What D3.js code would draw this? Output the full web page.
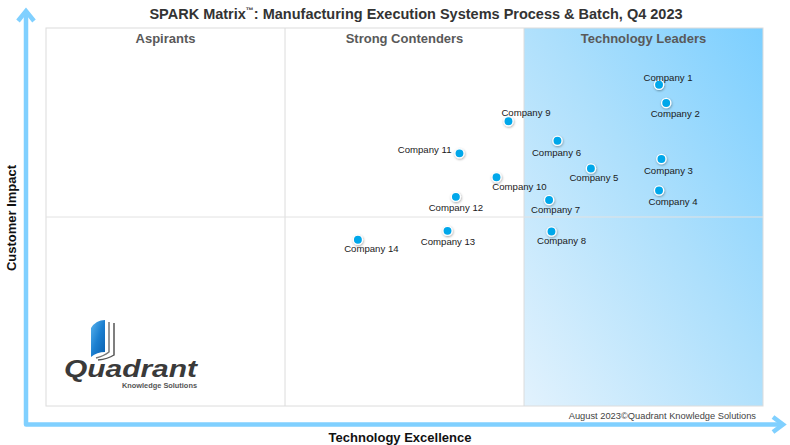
<!DOCTYPE html>
<html lang="en">
<head>
  <meta charset="utf-8">
  <title>SPARK Matrix</title>
  <script src="https://d3js.org/d3.v7.min.js"></script>
  <style>
    body { margin: 0; background: #fff; }
    text { font-family: "Liberation Sans", Arial, sans-serif; }
  </style>
</head>
<body>
<script>
// data
var companies = ["Company 1", "Company 2", "Company 3", "Company 4", "Company 5", "Company 6", "Company 7",
                 "Company 8", "Company 9", "Company 10", "Company 11", "Company 12", "Company 13", "Company 14"];
var techExcellence = [5.13, 5.19, 5.15, 5.13, 4.56, 4.28, 4.21, 4.23, 3.87, 3.77, 3.46, 3.43, 3.36, 2.61];
var customerImpact = [5.10, 4.81, 3.92, 3.42, 3.77, 4.21, 3.27, 2.77, 4.52, 3.63, 4.01, 3.32, 2.78, 2.64];
var quadrantNames = ["Aspirants", "Strong Contenders", "Technology Leaders"];
var xBreaks = [2, 4];
var yBreak = 3;

// label placement (dx, dy from point, anchor)
var labelOffsets = [
  [9, -4, "middle"], [9, 14, "middle"], [7, 14.5, "middle"], [14, 14, "middle"],
  [3, 13, "middle"], [-1, 15, "middle"], [6.5, 13, "middle"], [10, 13, "middle"],
  [17.5, -5.5, "middle"], [23, 13, "middle"], [-8, 0, "end"], [0, 14.5, "middle"],
  [0.5, 14.5, "middle"], [13.5, 12, "middle"]
];

var width = 790, height = 445;
var left = 46, top_ = 28, right = 763, bottom = 406;

var svg = d3.select("body").append("svg")
  .attr("width", width)
  .attr("height", height);

var x = d3.scaleLinear().domain([0, 6]).range([left, right]);
var y = d3.scaleLinear().domain([0, 6]).range([bottom, top_]);

var defs = svg.append("defs");
var grad = defs.append("linearGradient").attr("id", "leaders")
  .attr("x1", 0).attr("y1", 1).attr("x2", 1).attr("y2", 0);
grad.append("stop").attr("offset", "0%").attr("stop-color", "#e2f2fd");
grad.append("stop").attr("offset", "55%").attr("stop-color", "#acdffc");
grad.append("stop").attr("offset", "100%").attr("stop-color", "#7ccfff");

var shadow = defs.append("filter").attr("id", "shadow")
  .attr("x", "-50%").attr("y", "-50%").attr("width", "200%").attr("height", "200%");
shadow.append("feDropShadow").attr("dx", 0.5).attr("dy", 1).attr("stdDeviation", 0.8)
  .attr("flood-color", "#000").attr("flood-opacity", 0.35);

// leaders background
svg.append("rect")
  .attr("x", x(xBreaks[1])).attr("y", y(6))
  .attr("width", x(6) - x(xBreaks[1])).attr("height", y(0) - y(6))
  .attr("fill", "url(#leaders)");

// frame and dividers
svg.append("rect")
  .attr("x", x(0)).attr("y", y(6))
  .attr("width", x(6) - x(0)).attr("height", y(0) - y(6))
  .attr("fill", "none").attr("stroke", "#dcdcdc");

svg.selectAll("line.vdiv").data(xBreaks).enter().append("line")
  .attr("class", "vdiv")
  .attr("x1", function(d){ return x(d); }).attr("x2", function(d){ return x(d); })
  .attr("y1", y(6)).attr("y2", y(0))
  .attr("stroke", "#dcdcdc");

svg.append("line")
  .attr("x1", x(0)).attr("x2", x(6))
  .attr("y1", y(yBreak)).attr("y2", y(yBreak))
  .attr("stroke", "#e2e2e2");

// quadrant headers
svg.selectAll("text.quad").data(quadrantNames).enter().append("text")
  .attr("class", "quad")
  .attr("x", function(d, i){ return x(i * 2 + 1); })
  .attr("y", 43)
  .attr("text-anchor", "middle")
  .attr("font-size", 13)
  .attr("font-weight", "bold")
  .attr("fill", "#595959")
  .text(function(d){ return d; });

// title
var title = svg.append("text")
  .attr("x", 416).attr("y", 19)
  .attr("text-anchor", "middle")
  .attr("font-size", 14.5)
  .attr("font-weight", "bold")
  .attr("fill", "#333");
title.append("tspan").text("SPARK Matrix");
title.append("tspan").attr("font-size", 8).attr("dy", -6).text("™");
title.append("tspan").attr("dy", 6).text(": Manufacturing Execution Systems Process & Batch, Q4 2023");

// axis arrows
var arrowColor = "#80d0ff";
svg.append("path")
  .attr("d", "M26,12 L26,424.5 L782,424.5")
  .attr("fill", "none").attr("stroke", arrowColor).attr("stroke-width", 4.5)
  .attr("stroke-linejoin", "round");
svg.append("path")
  .attr("d", "M18,21 L26,11 L34,21")
  .attr("fill", "none").attr("stroke", arrowColor).attr("stroke-width", 4.5);
svg.append("path")
  .attr("d", "M773,417 L783,424.5 L773,432")
  .attr("fill", "none").attr("stroke", arrowColor).attr("stroke-width", 4.5);

// axis titles
svg.append("text")
  .attr("transform", "translate(16," + 218 + ") rotate(-90)")
  .attr("text-anchor", "middle")
  .attr("font-size", 13).attr("font-weight", "bold").attr("fill", "#111")
  .text("Customer Impact");
svg.append("text")
  .attr("x", 400).attr("y", 442)
  .attr("text-anchor", "middle")
  .attr("font-size", 13).attr("font-weight", "bold").attr("fill", "#111")
  .text("Technology Excellence");

// footer
svg.append("text")
  .attr("x", 756).attr("y", 419)
  .attr("text-anchor", "end")
  .attr("font-size", 9.3).attr("fill", "#444")
  .text("August 2023©Quadrant Knowledge Solutions");

// logo
var logo = svg.append("g");
logo.append("path")
  .attr("d", "M109,322 L109,352 Q104,356 96,358")
  .attr("fill", "none").attr("stroke", "#777").attr("stroke-width", 1.5);
logo.append("path")
  .attr("d", "M114,323 L114,355 Q108,359 98,360")
  .attr("fill", "none").attr("stroke", "#555").attr("stroke-width", 1.5);
var bookGrad = defs.append("linearGradient").attr("id", "book")
  .attr("x1", 0).attr("y1", 0).attr("x2", 1).attr("y2", 1);
bookGrad.append("stop").attr("offset", "0%").attr("stop-color", "#5ab4ee");
bookGrad.append("stop").attr("offset", "50%").attr("stop-color", "#1b7fd0");
bookGrad.append("stop").attr("offset", "100%").attr("stop-color", "#0a5fae");
logo.append("path")
  .attr("d", "M91,328 Q96,320 105,320 L105,352 Q97,352 91,357 Z")
  .attr("fill", "url(#book)");
logo.append("text")
  .attr("x", 64).attr("y", 377)
  .attr("font-family", "'DejaVu Sans', sans-serif")
  .attr("font-style", "italic").attr("font-weight", "bold")
  .attr("font-size", 24).attr("fill", "#3a3a3a")
  .attr("textLength", 133).attr("lengthAdjust", "spacingAndGlyphs")
  .text("Quadrant");
logo.append("text")
  .attr("x", 122).attr("y", 388)
  .attr("font-size", 6.5).attr("font-weight", "bold").attr("fill", "#555")
  .attr("textLength", 75).attr("lengthAdjust", "spacingAndGlyphs")
  .text("Knowledge Solutions");

// points
var pts = svg.selectAll("g.pt").data(companies).enter().append("g").attr("class", "pt");
pts.append("circle")
  .attr("cx", function(d, i){ return x(techExcellence[i]); })
  .attr("cy", function(d, i){ return y(customerImpact[i]); })
  .attr("r", 4.6)
  .attr("fill", "#00a7ea")
  .attr("stroke", "#fff").attr("stroke-width", 1.3)
  .attr("filter", "url(#shadow)");
pts.append("text")
  .attr("x", function(d, i){ return x(techExcellence[i]) + labelOffsets[i][0]; })
  .attr("y", function(d, i){ return y(customerImpact[i]) + labelOffsets[i][1]; })
  .attr("text-anchor", function(d, i){ return labelOffsets[i][2]; })
  .attr("font-size", 9.6)
  .attr("fill", "#1a1a1a")
  .text(function(d){ return d; });
</script>
</body>
</html>
